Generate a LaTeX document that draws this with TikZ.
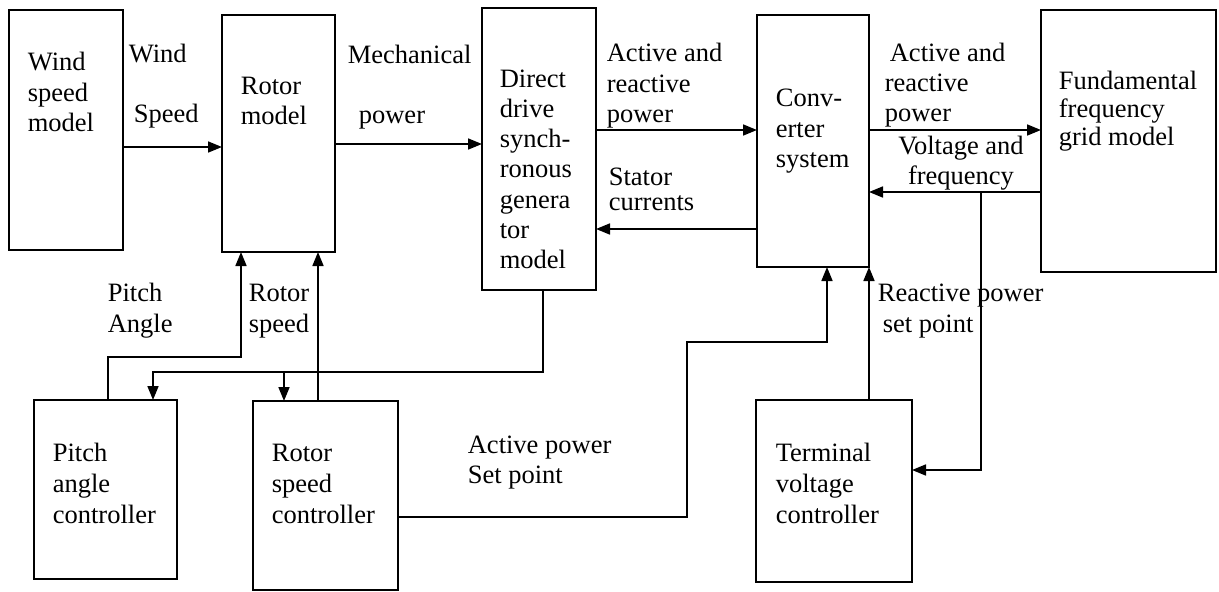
\documentclass[tikz,border=0pt]{standalone}
\usepackage{fontspec}
\setmainfont{Liberation Serif}
\usetikzlibrary{arrows.meta,fit}
\begin{document}
\begin{tikzpicture}[x=1pt,y=-1pt,line width=1.7pt,
  box/.style={draw,inner sep=0pt,outer sep=0pt},
  arr/.style={-{Triangle[length=14pt,width=11pt]}},
  lbl/.style={font=\fontsize{26.5}{30.3}\selectfont,align=left,anchor=base west,inner sep=0pt}]
\useasboundingbox (0,0) rectangle (1219,592);
% boxes
\node[box, fit={(9,10)(123,250)}] (wind) {};
\node[box, fit={(222,15)(335,252)}] (rotor) {};
\node[box, fit={(482,8)(596,290)}] (ddsg) {};
\node[box, fit={(757,15)(869,267)}] (conv) {};
\node[box, fit={(1041,10)(1216,272)}] (grid) {};
\node[box, fit={(34,400)(177,579)}] (pac) {};
\node[box, fit={(253,401)(398,590)}] (rsc) {};
\node[box, fit={(756,400)(912,582)}] (tvc) {};
% box texts (anchored at the baseline of the last line)
\node[lbl] (tWind) at (27,131.3) {Wind\\speed\\model};
\node[lbl] (tRotor) at (240,124.8) {Rotor\\model};
\node[lbl] (tDD) at (499,268.8) {Direct\\drive\\synch-\\ronous\\genera\\tor\\model};
\node[lbl] (tConv) at (775,167.3) {Conv-\\erter\\system};
\node[lbl] (tGrid) at (1058,145.6) {Fundamental\\[-2pt]frequency\\[-2pt]grid model};
\node[lbl] (tPAC) at (52,523) {Pitch\\[0.7pt]angle\\[0.7pt]controller};
\node[lbl] (tRSC) at (271,523) {Rotor\\[0.7pt]speed\\[0.7pt]controller};
\node[lbl] (tTVC) at (775,523) {Terminal\\[0.7pt]voltage\\[0.7pt]controller};
% connector labels
\node[lbl] (lWS) at (128,122.5) {Wind\\[29.5pt]\hspace*{5pt}Speed};
\node[lbl] (lMech) at (347,123.5) {Mechanical\\[30pt]\hspace*{11pt}power};
\node[lbl] (lAR1) at (606,122.3) {Active and\\reactive\\power};
\node[lbl] (lSC) at (608,210.3) {Stator\\[-5pt]currents};
\node[lbl] (lAR2) at (884,121.7) {\hspace*{5pt}Active and\\reactive\\power};
\node[lbl,align=center,anchor=base] (lVF) at (961,184.6) {Voltage and\\frequency};
\node[lbl] (lPA) at (107,332) {Pitch\\Angle};
\node[lbl] (lRS) at (248,332) {Rotor\\speed};
\node[lbl] (lAPS) at (467,483.6) {Active power\\Set point};
\node[lbl] (lRPS) at (877,332) {Reactive power\\\hspace*{5pt}set point};
% connectors
\draw[arr] (wind.east |- 0,147) -- (rotor.west |- 0,147);
\draw[arr] (rotor.east |- 0,144) -- (ddsg.west |- 0,144);
\draw[arr] (ddsg.east |- 0,130) -- (conv.west |- 0,130);
\draw[arr] (conv.west |- 0,229) -- (ddsg.east |- 0,229);
\draw[arr] (conv.east |- 0,130) -- (grid.west |- 0,130);
\draw[arr] (grid.west |- 0,192) -- (conv.east |- 0,192);
\coordinate (vf) at (981,192);
\draw[arr] (vf) |- (tvc.east |- 0,470);
\draw[arr] (tvc.north -| conv.south east) -- (conv.south east);
\coordinate (ap1) at (687,342);
\draw[arr] (rsc.east |- 0,517) -| (ap1) -| (conv.south -| 827,0);
\coordinate (sp) at (153,372);
\coordinate (sp2) at (284,372);
\draw[arr] (ddsg.south -| 543,0) |- (sp) -- (pac.north -| sp);
\draw[arr] (sp2) -- (rsc.north -| sp2);
\coordinate (pa) at (241,357);
\draw[arr] (pac.north -| 108,0) |- (pa) -- (rotor.south -| pa);
\draw[arr] (rsc.north -| 318,0) -- (rotor.south -| 318,0);
\end{tikzpicture}
\end{document}
